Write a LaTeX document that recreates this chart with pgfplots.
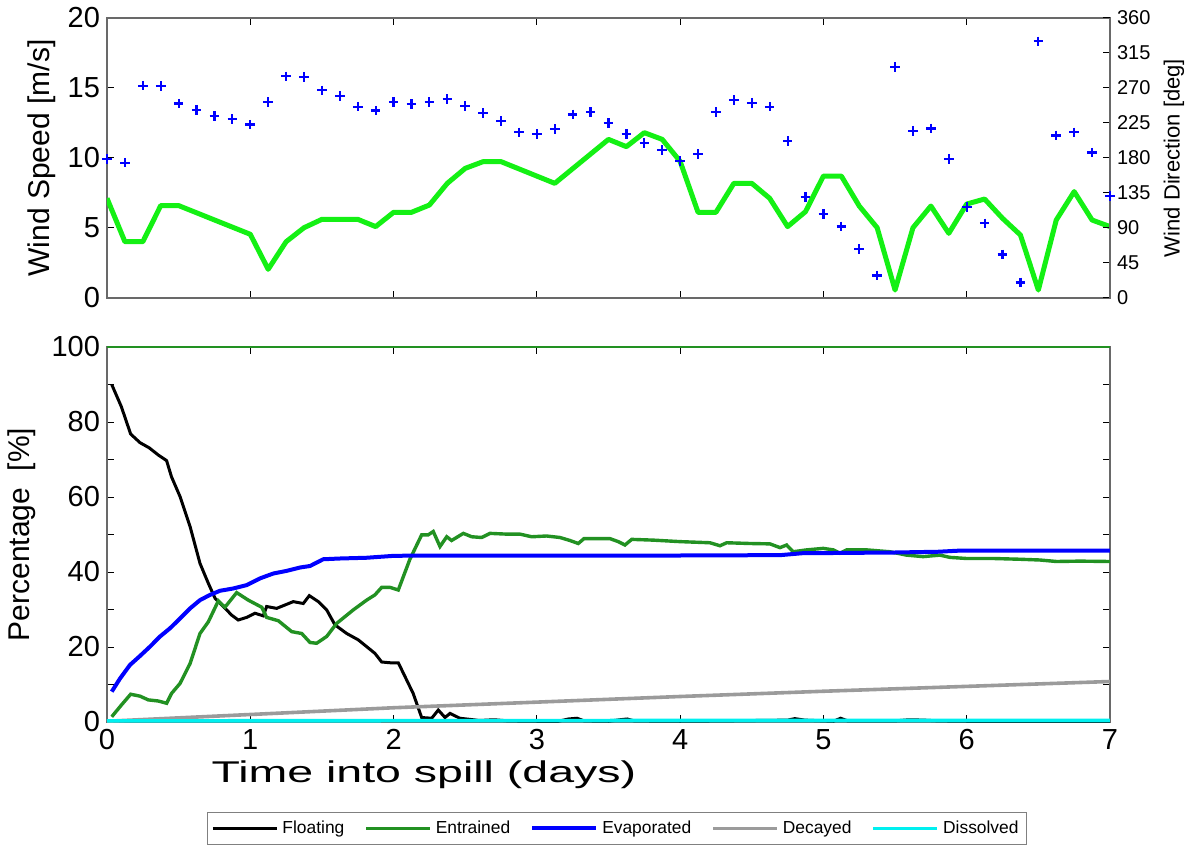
\documentclass[border=0pt]{standalone}
\usepackage{fontspec}
\setmainfont{Liberation Sans}
\usepackage{pgfplots}
\pgfplotsset{compat=1.18}
\definecolor{brightgreen}{RGB}{20,240,20}
\definecolor{entgreen}{RGB}{34,145,34}
\definecolor{decgray}{RGB}{155,155,155}
\definecolor{framegray}{RGB}{105,105,105}
\definecolor{dissolved}{RGB}{0,240,240}

\begin{document}
\begin{tikzpicture}
\useasboundingbox (-53.5pt,-62.5pt) rectangle (541pt,361pt);
\pgfplotsset{
  every axis/.append style={
    scale only axis, width=501.5pt,
    xmin=0, xmax=7, xtick={0,...,7},
    tick align=inside,
    major tick length=3.5pt, minor tick length=3.5pt,
    tick style={black, line width=0.5pt},
    axis line style={framegray, line width=0.7pt},
    /pgf/number format/assume math mode=true,
    tick label style={font=\fontsize{14.5}{17}\selectfont},
    label style={font=\fontsize{15}{18}\selectfont},
  }
}
% wind speed
\begin{axis}[at={(0pt,212pt)}, anchor=south west, height=140pt,
  ymin=0, ymax=20, ytick={0,5,...,20},
  xticklabels={}, xtick pos=both, ytick pos=left,
  ylabel={Wind Speed [m/s]},
  ylabel style={at={(axis description cs:-0.0648,0.5)}, anchor=center}]
\addplot[brightgreen, line width=2.5pt, line join=round] coordinates {
(0,7.12)(0.125,4.02)(0.25,4.02)(0.375,6.6)(0.5,6.6)(1.0,4.55)(1.125,2.05)
(1.25,4.02)(1.375,5.02)(1.5,5.62)(1.75,5.62)(1.875,5.1)(2.0,6.12)(2.125,6.12)
(2.25,6.64)(2.375,8.19)(2.5,9.26)(2.625,9.74)(2.75,9.74)(3.125,8.19)(3.5,11.33)
(3.625,10.81)(3.75,11.81)(3.875,11.33)(4.0,9.76)(4.125,6.12)(4.25,6.12)(4.375,8.19)
(4.5,8.19)(4.625,7.12)(4.75,5.1)(4.875,6.17)(5.0,8.71)(5.125,8.71)(5.25,6.57)
(5.375,5.02)(5.5,0.57)(5.625,5.02)(5.75,6.57)(5.875,4.62)(6.0,6.71)(6.125,7.07)
(6.25,5.69)(6.375,4.5)(6.5,0.57)(6.625,5.57)(6.75,7.6)(6.875,5.57)(7.0,5.1)};
\end{axis}
% wind direction
\begin{axis}[at={(0pt,212pt)}, anchor=south west, height=140pt,
  ymin=0, ymax=360, ytick={0,45,...,360},
  axis y line*=right, axis x line=none, clip=false,
  yticklabel style={font=\fontsize{10}{12}\selectfont},
  ylabel={Wind Direction [deg]},
  ylabel style={font=\fontsize{11}{13}\selectfont,
    at={(axis description cs:1.0638,0.5)}, anchor=center}]
\addplot[only marks, mark=+, blue, mark size=2.4pt, mark options={line width=1.1pt}] coordinates {
(0,179)(0.125,174)(0.25,273)(0.375,272.5)(0.5,250)(0.625,242)(0.75,234)(0.875,230)
(1.0,223)(1.125,252)(1.25,285)(1.375,284)(1.5,267)(1.625,260)(1.75,246)(1.875,241)
(2.0,252)(2.125,249.5)(2.25,252)(2.375,256)(2.5,247)(2.625,238)(2.75,227.5)(2.875,213)
(3.0,211)(3.125,217)(3.25,236)(3.375,239)(3.5,225)(3.625,211)(3.75,199)(3.875,190)
(4.0,176)(4.125,185)(4.25,239)(4.375,254.5)(4.5,251)(4.625,246)(4.75,202)(4.875,130)
(5.0,108)(5.125,92)(5.25,63)(5.375,29)(5.5,297)(5.625,215)(5.75,218)(5.875,179)
(6.0,117)(6.125,96)(6.25,56)(6.375,20)(6.5,330)(6.625,209)(6.75,213)(6.875,187)(7.0,131)};
\end{axis}
% mass balance
\begin{axis}[at={(0pt,0pt)}, anchor=south west, height=187.5pt,
  ymin=0, ymax=100, ytick={0,20,...,100}, minor y tick num=1,
  xtick pos=both, ytick pos=both,
  xlabel={Time into spill (days)},
  xlabel style={xscale=1.55,
    at={(axis description cs:0.316,-0.141)}, anchor=center},
  ylabel={Percentage\ \ [\%]},
  ylabel style={at={(axis description cs:-0.0847,0.5)}, anchor=center},
  legend columns=5,
  legend style={at={(axis description cs:0.5085,-0.24)}, anchor=north,
    draw=gray, line width=0.6pt, inner sep=2pt,
    font=\fontsize{8.7}{10}\selectfont,
    /tikz/every even column/.append style={column sep=8pt}},
  legend image code/.code={\draw[#1] (0pt,0pt) -- (32pt,0pt);},
  extra description/.code={\draw[entgreen, line width=0.8pt] (0,1) -- (1,1);}]
\addplot[black, line width=1.5pt] coordinates {
(0.033,90)(0.10,84.1)(0.165,76.8)(0.23,74.5)(0.295,73.1)(0.358,71.2)(0.416,69.7)
(0.45,65.4)(0.51,60.1)(0.58,52.1)(0.649,42.3)(0.707,37)(0.754,33)(0.812,30.8)
(0.870,28.5)(0.916,27.2)(0.975,27.9)(1.033,29)(1.091,28.3)(1.114,30.8)(1.184,30.3)
(1.242,31.2)(1.3,32.1)(1.37,31.6)(1.412,33.7)(1.475,32.1)(1.533,29.9)(1.591,25.9)
(1.673,23.6)(1.754,21.9)(1.812,20.1)(1.87,18.3)(1.917,16)(1.975,15.8)(2.033,15.8)
(2.08,12.1)(2.137,7.6)(2.196,1.2)(2.266,1)(2.312,3.2)(2.359,1.2)(2.394,2.3)
(2.463,1)(2.533,0.7)(2.6,0.4)(2.7,0.6)(2.8,0.3)(3.0,0.2)(3.15,0.2)(3.22,0.8)
(3.28,1.0)(3.33,0.3)(3.5,0.2)(3.58,0.6)(3.63,0.8)(3.68,0.3)(4.0,0.2)(4.3,0.3)
(4.75,0.5)(4.8,0.9)(4.87,0.5)(5.0,0.3)(5.07,0.2)(5.12,1.0)(5.17,0.3)(5.5,0.3)
(5.6,0.6)(5.7,0.5)(5.8,0.3)(6.0,0.2)(6.5,0.2)(7.0,0.2)};
\addlegendentry{Floating}
\addplot[entgreen, line width=1.7pt] coordinates {
(0.033,1.4)(0.1,4.5)(0.165,7.4)(0.23,6.9)(0.288,5.9)(0.358,5.6)(0.416,5)(0.45,7.6)
(0.51,10.3)(0.58,15.6)(0.649,23.6)(0.707,26.7)(0.777,32.3)(0.823,30.6)(0.905,34.5)
(0.986,32.5)(1.08,30.6)(1.114,27.9)(1.196,27)(1.289,24.1)(1.359,23.6)(1.417,21.2)
(1.463,21)(1.533,22.8)(1.603,26.3)(1.719,29.9)(1.812,32.5)(1.87,33.9)(1.917,35.9)
(1.975,35.9)(2.033,35.2)(2.114,43.4)(2.196,49.9)(2.242,49.9)(2.277,50.8)(2.324,46.8)
(2.371,49.4)(2.405,48.4)(2.487,50.3)(2.545,49.4)(2.615,49.2)(2.673,50.3)(2.789,50.1)
(2.882,50.1)(2.964,49.4)(3.068,49.6)(3.161,49.2)(3.231,48.4)(3.289,47.6)(3.329,48.9)
(3.51,48.9)(3.568,48.1)(3.615,47.2)(3.662,48.7)(3.812,48.5)(3.999,48.1)(4.208,47.8)
(4.278,47)(4.325,47.8)(4.487,47.6)(4.627,47.5)(4.697,46.5)(4.743,47.2)(4.789,45.4)
(4.883,45.9)(4.999,46.3)(5.069,45.9)(5.115,45)(5.162,45.9)(5.301,45.9)(5.464,45.4)
(5.58,44.5)(5.696,44.1)(5.813,44.5)(5.883,43.9)(5.999,43.6)(6.185,43.6)(6.371,43.4)
(6.511,43.2)(6.627,42.8)(6.79,42.9)(7.0,42.8)};
\addlegendentry{Entrained}
\addplot[blue, line width=2pt] coordinates {
(0.033,8.1)(0.091,11.6)(0.16,15.2)(0.23,17.6)(0.3,20.1)(0.37,22.8)(0.44,25)(0.51,27.6)
(0.58,30.3)(0.649,32.5)(0.719,33.9)(0.789,35)(0.881,35.6)(0.975,36.5)(1.068,38.3)
(1.161,39.6)(1.254,40.3)(1.347,41.2)(1.417,41.6)(1.509,43.4)(1.626,43.6)(1.812,43.8)
(1.998,44.3)(2.184,44.4)(3.0,44.4)(4.0,44.4)(4.7,44.5)(4.85,45)(5.5,45.2)(5.8,45.4)
(5.95,45.7)(7.0,45.7)};
\addlegendentry{Evaporated}
\addplot[decgray, line width=1.8pt] coordinates {
(0,0.2)(1,2.0)(2,3.8)(3,5.3)(4,6.8)(5,8.2)(6,9.5)(7,10.8)};
\addlegendentry{Decayed}
\addplot[dissolved, line width=1.8pt] coordinates {
(0,0.3)(2,0.35)(4,0.4)(7,0.4)};
\addlegendentry{Dissolved}
\end{axis}
\end{tikzpicture}
\end{document}
